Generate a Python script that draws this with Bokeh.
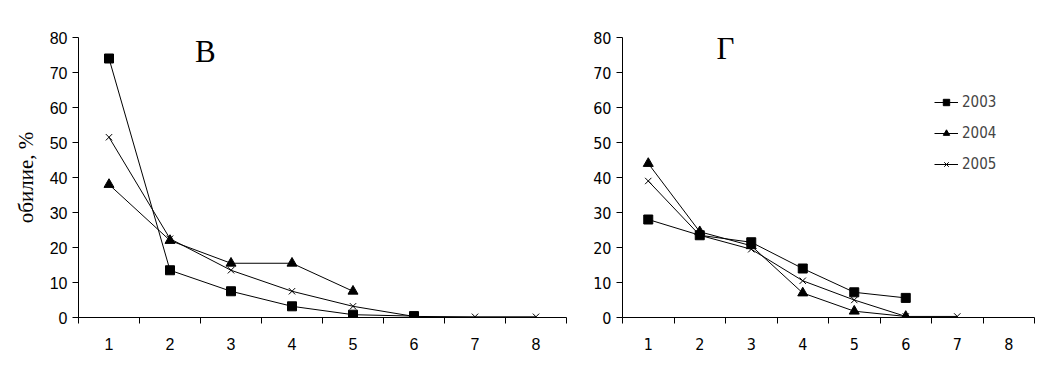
from bokeh.plotting import figure
from bokeh.layouts import row
from bokeh.models import FixedTicker, Legend, LegendItem, Label
from bokeh.embed import file_html
from bokeh.resources import INLINE

categories = [1, 2, 3, 4, 5, 6, 7, 8]
y_ticks = [0, 10, 20, 30, 40, 50, 60, 70, 80]

# Panel В
v_2003 = [74, 13.5, 7.5, 3.2, 0.8, 0.4]
v_2004 = [38, 22, 15.5, 15.5, 7.5]
v_2005 = [51.5, 22.5, 13.5, 7.5, 3.2, 0.3, 0.2, 0.2]

# Panel Г
g_2003 = [28, 23.5, 21.5, 14, 7.2, 5.6]
g_2004 = [44, 24.5, 20.5, 7, 1.8, 0.3]
g_2005 = [39, 23.5, 19.5, 10.5, 5, 0.3, 0.3]

series_names = ["2003", "2004", "2005"]

NARROW = "DejaVu Sans Condensed, Liberation Sans Narrow, Liberation Sans"


def make_fig(width, left, right, bottom, tick_font, ylabel=None):
    p = figure(width=width, height=382, x_range=(0.5, 8.5), y_range=(0, 80),
               output_backend="svg", toolbar_location=None,
               min_border_left=left, min_border_right=right,
               min_border_top=37, min_border_bottom=bottom)
    p.outline_line_color = None
    p.grid.visible = False
    p.xaxis.ticker = FixedTicker(ticks=categories,
                                 minor_ticks=[c - 0.5 for c in categories] + [8.5])
    p.xaxis.major_tick_line_color = None
    p.xaxis.minor_tick_out = 6
    p.xaxis.minor_tick_in = 0
    p.xaxis.major_label_standoff = 14
    p.yaxis.ticker = FixedTicker(ticks=y_ticks)
    p.yaxis.minor_tick_line_color = None
    p.yaxis.major_tick_out = 6
    p.yaxis.major_tick_in = 0
    p.yaxis.major_label_standoff = 5
    for ax in (p.xaxis, p.yaxis):
        ax.axis_line_color = "black"
        ax.major_label_text_font = tick_font
        ax.major_label_text_font_size = "16px"
        ax.major_label_text_color = "black"
    if ylabel:
        p.yaxis.axis_label = ylabel
        p.yaxis.axis_label_text_font = "Liberation Serif"
        p.yaxis.axis_label_text_font_style = "normal"
        p.yaxis.axis_label_text_font_size = "21px"
        p.yaxis.axis_label_text_color = "black"
        p.yaxis.axis_label_standoff = 9
    return p


def draw(p, d03, d04, d05):
    x03 = categories[:len(d03)]
    x04 = categories[:len(d04)]
    x05 = categories[:len(d05)]
    l1 = p.line(x03, d03, line_color="black", line_width=1)
    m1 = p.scatter(x03, d03, marker="square", size=9, fill_color="black", line_color="black")
    l2 = p.line(x04, d04, line_color="black", line_width=1)
    m2 = p.scatter(x04, d04, marker="triangle", size=10, fill_color="black", line_color="black")
    l3 = p.line(x05, d05, line_color="black", line_width=1)
    m3 = p.scatter(x05, d05, marker="x", size=9, line_color="black", line_width=1)
    return [(l1, m1), (l2, m2), (l3, m3)]


p1 = make_fig(590, 78, 24, 65, "Liberation Sans", ylabel="обилие, %")
draw(p1, v_2003, v_2004, v_2005)
p1.add_layout(Label(x=2.58, y=71, x_units="data", y_units="data", text="В",
                    text_font="Liberation Serif", text_font_size="31px",
                    text_color="black", text_align="center"))

p2 = make_fig(464, 28, 20, 63, NARROW)
rends = draw(p2, g_2003, g_2004, g_2005)
p2.add_layout(Label(x=2.5, y=72, x_units="data", y_units="data", text="Г",
                    text_font="Liberation Serif", text_font_size="31px",
                    text_color="black", text_align="center"))

legend = Legend(items=[LegendItem(label=n, renderers=list(r)) for n, r in zip(series_names, rends)],
                location=(312, 144), orientation="vertical",
                background_fill_alpha=0, border_line_color=None,
                label_text_font=NARROW, label_text_font_size="15px",
                glyph_width=24, glyph_height=16, label_height=16, spacing=13,
                padding=4, margin=0, label_standoff=4)
p2.add_layout(legend)

layout = row(p1, p2, spacing=0)
open("out.html", "w").write(file_html(layout, INLINE))
